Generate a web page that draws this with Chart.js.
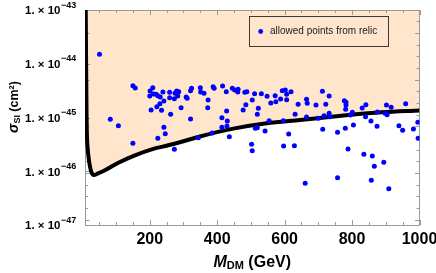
<!DOCTYPE html>
<html><head><meta charset="utf-8">
<script src="https://cdn.jsdelivr.net/npm/chart.js@4.4.1/dist/chart.umd.min.js"></script>
<style>html,body{margin:0;padding:0;background:#fff;}#wrap{width:436px;height:273px;position:relative;}</style>
</head><body><div id="wrap"><canvas id="c" width="436" height="273"></canvas></div>
<script>
// scatter points: allowed points from relic
const massGeV = [150,157,201,209,200,211,219,224,231,239,259,259,275,273,280,286,283,308,311,324,321,350,351,361,242,230,221,204,235,262,293,321,83,107,242,246,224,150,273,344,
373,372,388,391,416,427,445,452,462,461,482,488,511,531,504,485,477,522,519,428,414,430,414,429,385,436,502,504,513,519,542,554,548,572,559,574,588,593,602,606,606,619,596,612,597,629,640,631,665,667,665,693,700,661,
712,732,722,717,732,734,777,782,782,781,801,795,830,841,840,856,875,874,902,916,898,904,959,939,950,982,995,996,713,757,780,804,788,835,860,894,866,757,857,909,51];
const sigmaSI = [3.91e-45,3.54e-45,3.11e-45,3.58e-45,2.51e-45,2.74e-45,2.70e-45,2.54e-45,2.41e-45,2.98e-45,2.94e-45,2.34e-45,2.82e-45,2.24e-45,3.11e-45,3.02e-45,2.51e-45,2.41e-45,2.28e-45,3.49e-45,3.15e-45,3.58e-45,2.98e-45,2.82e-45,2.03e-45,1.81e-45,1.59e-45,1.38e-45,1.36e-45,1.15e-45,1.52e-45,9.38e-46,9.26e-46,7.04e-46,6.57e-46,5.00e-46,4.10e-46,3.31e-46,2.56e-46,4.21e-46,
2.12e-45,1.52e-45,3.74e-45,3.49e-45,3.86e-45,3.02e-45,3.49e-45,3.25e-45,3.35e-45,2.98e-45,2.94e-45,3.02e-45,2.77e-45,2.77e-45,2.12e-45,1.73e-45,1.38e-45,1.48e-45,1.15e-45,1.32e-45,9.92e-46,8.61e-46,6.57e-46,6.95e-46,5.15e-46,4.39e-46,3.17e-46,2.41e-46,6.30e-46,6.46e-46,5.61e-46,8.72e-46,2.48e-45,2.54e-45,1.86e-45,1.97e-45,2.21e-45,3.15e-45,3.25e-45,2.70e-45,2.14e-45,3.02e-45,8.72e-46,4.93e-46,2.95e-46,2.99e-46,1.76e-45,1.15e-45,2.18e-45,1.84e-45,1.02e-45,1.71e-45,9.66e-46,5.97e-47,
3.07e-45,2.51e-45,1.76e-45,1.08e-45,1.20e-45,1.03e-45,2.05e-45,1.92e-45,1.71e-45,1.42e-45,1.25e-45,1.11e-45,1.50e-45,1.73e-45,1.03e-45,8.61e-46,1.27e-45,6.86e-46,1.71e-45,1.55e-45,1.20e-45,1.13e-45,1.81e-45,7.04e-46,5.78e-46,6.11e-46,8.14e-46,4.10e-46,6.03e-46,5.30e-46,6.30e-46,7.25e-46,2.59e-46,2.07e-46,1.92e-46,1.47e-46,1.24e-46,7.59e-47,6.79e-47,4.73e-47,1.51e-44];

// exclusion limit curve
const limitMass  = [9.8,10.2,11.3,12.7,13.9,16,19,22.8,27,34,45,67,107,156,206,255,305,349,448,547,646,789,888,1000];
const limitSigma = [2e-43,1e-43,1e-44,1e-45,4.3e-46,2.6e-46,1.75e-46,1.22e-46,9.6e-47,8.5e-47,9.0e-47,1.04e-46,1.44e-46,1.98e-46,2.56e-46,3.04e-46,3.7e-46,4.44e-46,6.2e-46,7.8e-46,9.0e-46,1.11e-45,1.25e-45,1.35e-45];

// axes
const xTickValues = [200,400,600,800,1000];
const xTickLabels = ['200','400','600','800','1000'];
const yTickValues = [1e-43,1e-44,1e-45,1e-46,1e-47];
const yTickMantissa = '1. × 10';
const yTickExponents = ['−43','−44','−45','−46','−47'];
const legendLabel = 'allowed points from relic';

const FONT = '"Liberation Sans", Arial, Helvetica, sans-serif';
const FRAME = '#9a9a9a';

const decor = {
  id: 'decor',
  beforeDatasetsDraw(chart) {
    const {ctx, chartArea: a, scales: {x, y}} = chart;
    ctx.save();
    ctx.strokeStyle = FRAME; ctx.lineWidth = 1;
    ctx.strokeRect(Math.round(a.left) + 0.5, Math.round(a.top) + 0.5, Math.round(a.right - a.left) - 1, Math.round(a.bottom - a.top));
    ctx.beginPath();
    for (let v = 50; v <= 1000; v += 50) {
      const px = Math.round(x.getPixelForValue(v)) + 0.5;
      const len = v % 200 === 0 ? 5 : 3;
      ctx.moveTo(px, a.bottom); ctx.lineTo(px, a.bottom - len);
      ctx.moveTo(px, a.top); ctx.lineTo(px, a.top + len);
    }
    const lnMin = Math.log(y.min), lnMax = Math.log(y.max);
    for (let l = Math.ceil(lnMin * 2) / 2; l <= lnMax; l += 0.5) {
      const py = Math.round(y.getPixelForValue(Math.exp(l))) + 0.5;
      const len = Math.abs(l % 2) < 1e-9 ? 4.5 : 3;
      ctx.moveTo(a.right, py); ctx.lineTo(a.right - len, py);
      ctx.moveTo(a.left, py); ctx.lineTo(a.left + len, py);
    }
    yTickValues.forEach(v => {
      const py = Math.round(y.getPixelForValue(v)) + 0.5;
      ctx.moveTo(a.left, py); ctx.lineTo(a.left + 5, py);
    });
    ctx.stroke();
    ctx.restore();
  },
  afterDraw(chart) {
    const {ctx, chartArea: a, scales: {x, y}} = chart;
    ctx.save();
    ctx.fillStyle = '#000';
    // x tick labels
    ctx.font = 'bold 16px ' + FONT;
    ctx.textAlign = 'center'; ctx.textBaseline = 'alphabetic';
    xTickValues.forEach((v, i) => ctx.fillText(xTickLabels[i], x.getPixelForValue(v), 243.5));
    // y tick labels
    ctx.textAlign = 'left';
    yTickValues.forEach((v, i) => {
      const py = y.getPixelForValue(v);
      ctx.font = 'bold 11.5px ' + FONT;
      ctx.fillText(yTickMantissa, 25, py + 4.3);
      const w = ctx.measureText(yTickMantissa).width;
      ctx.font = 'bold 9px ' + FONT;
      ctx.fillText(yTickExponents[i], 25 + w + 0.5, py - 2.3);
    });
    // x title
    const cx = (a.left + a.right) / 2, by = 267;
    ctx.font = 'italic bold 16px ' + FONT; const wM = ctx.measureText('M').width;
    ctx.font = 'bold 11px ' + FONT; const wD = ctx.measureText('DM').width;
    ctx.font = 'bold 16px ' + FONT; const wG = ctx.measureText(' (GeV)').width;
    let sx = cx - (wM + wD + wG) / 2;
    ctx.font = 'italic bold 16px ' + FONT; ctx.fillText('M', sx, by); sx += wM;
    ctx.font = 'bold 11px ' + FONT; ctx.fillText('DM', sx, by + 1.5); sx += wD;
    ctx.font = 'bold 16px ' + FONT; ctx.fillText(' (GeV)', sx, by);
    // y title (rotated)
    ctx.translate(17.5, 107); ctx.rotate(-Math.PI / 2);
    ctx.font = 'italic bold 14px ' + FONT; const ws = ctx.measureText('σ').width;
    ctx.font = 'bold 9px ' + FONT; const wsi = ctx.measureText('SI').width;
    ctx.font = 'bold 12.5px ' + FONT; const wc = ctx.measureText(' (cm²)').width;
    let ty = -(ws + wsi + wc) / 2;
    ctx.font = 'italic bold 14px ' + FONT; ctx.fillText('σ', ty, 0); ty += ws;
    ctx.font = 'bold 9px ' + FONT; ctx.fillText('SI', ty, 2.5); ty += wsi;
    ctx.font = 'bold 12.5px ' + FONT; ctx.fillText(' (cm²)', ty, 0);
    ctx.restore();
    // legend
    ctx.save();
    ctx.strokeStyle = '#3a3a3a'; ctx.lineWidth = 1;
    ctx.strokeRect(249.5, 16.5, 139, 30);
    ctx.fillStyle = '#0000ff';
    ctx.beginPath(); ctx.arc(260.7, 31.5, 2.4, 0, Math.PI * 2); ctx.fill();
    ctx.fillStyle = '#1a1a1a';
    ctx.font = '10px ' + FONT; ctx.textAlign = 'left'; ctx.textBaseline = 'middle';
    ctx.fillText(legendLabel, 270, 31.5);
    ctx.restore();
  }
};

new Chart(document.getElementById('c'), {
  data: {
    datasets: [
      {
        type: 'scatter', label: legendLabel, order: 0,
        data: massGeV.map((m, i) => ({x: m, y: sigmaSI[i]})),
        backgroundColor: '#0000ff', borderWidth: 0, pointRadius: 2.5
      },
      {
        type: 'line', label: 'limit', order: 1,
        data: limitMass.map((m, i) => ({x: m, y: limitSigma[i]})),
        borderColor: '#000', borderWidth: 4, pointRadius: 0,
        cubicInterpolationMode: 'monotone',
        fill: 'end', backgroundColor: 'rgb(255,229,204)'
      }
    ]
  },
  options: {
    responsive: false, animation: false, devicePixelRatio: 1,
    layout: {padding: {left: 85, top: 10, right: 16.5, bottom: 48}},
    scales: {
      x: {type: 'linear', min: 8, max: 1000, display: false},
      y: {type: 'logarithmic', min: 1e-47, max: 1e-43, display: false}
    },
    plugins: {legend: {display: false}, tooltip: {enabled: false}, filler: {drawTime: 'beforeDraw'}}
  },
  plugins: [decor]
});
</script>
</body></html>
